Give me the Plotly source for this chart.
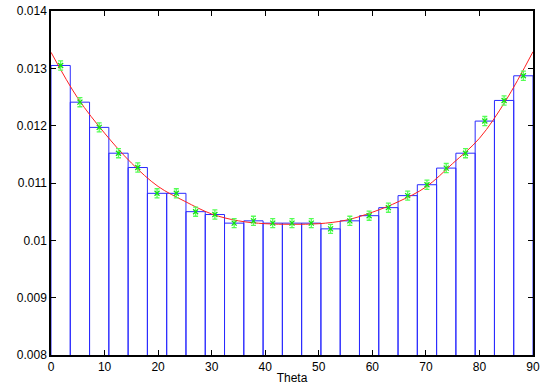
"""Theta distribution histogram with fitted curve."""

import plotly.graph_objects as go

C_BAR = "#2a2aff"
C_FIT = "#ff2020"
C_POINT = "#10e010"
C_ERR = "#55ff55"

BIN_WIDTH = 3.6
bin_centers = [1.8 + 3.6 * i for i in range(25)]

# normalised bin contents
bin_values = [
    0.01305, 0.01241, 0.01197, 0.01152, 0.01127,
    0.01082, 0.01082, 0.01050, 0.01045, 0.01030,
    0.01034, 0.01030, 0.01030, 0.01030, 0.01020,
    0.01034, 0.01043, 0.01057, 0.01078, 0.01097,
    0.01126, 0.01152, 0.01208, 0.01244, 0.01287,
]
bin_errors = [0.00008] * 25

# fitted curve
fit_theta = [0, 5, 10, 15, 20, 25, 30, 35, 40, 45, 50, 55, 60, 65, 70, 75, 80, 85, 90]
fit_values = [
    0.01328, 0.01248, 0.01187, 0.01135, 0.01094,
    0.01068, 0.01046, 0.01034, 0.01029, 0.01028,
    0.01029, 0.01035, 0.01049, 0.01068, 0.01093,
    0.01134, 0.01178, 0.01245, 0.01329,
]

x_ticks = [0, 10, 20, 30, 40, 50, 60, 70, 80, 90]
y_ticks = [0.008, 0.009, 0.010, 0.011, 0.012, 0.013, 0.014]
y_tick_labels = ["0.008", "0.009", "0.01", "0.011", "0.012", "0.013", "0.014"]

# box outlines of every bin, as one broken line (gnuplot "with boxes" look)
box_x, box_y = [], []
for c, v in zip(bin_centers, bin_values):
    left, right = c - BIN_WIDTH / 2, c + BIN_WIDTH / 2
    box_x += [left, left, right, right, None]
    box_y += [0, v, v, 0, None]

hist_trace = go.Scatter(
    x=box_x,
    y=box_y,
    mode="lines",
    line=dict(color=C_BAR, width=1),
    hoverinfo="skip",
    showlegend=False,
)

fit_trace = go.Scatter(
    x=fit_theta,
    y=fit_values,
    mode="lines",
    line=dict(color=C_FIT, width=1, shape="spline"),
    hoverinfo="skip",
    showlegend=False,
)

point_trace = go.Scatter(
    x=bin_centers,
    y=bin_values,
    mode="markers",
    marker=dict(symbol="x-thin", size=5, line=dict(color=C_POINT, width=1.3)),
    error_y=dict(type="data", array=bin_errors, color=C_ERR, thickness=1.3, width=2.5),
    hovertemplate="%{x}: %{y}<extra></extra>",
    showlegend=False,
)

fig = go.Figure(data=[hist_trace, fit_trace, point_trace])

axis_style = dict(
    showgrid=False,
    zeroline=False,
    showline=True,
    linecolor="black",
    linewidth=1.5,
    mirror="ticks",
    ticks="inside",
    ticklen=5,
    tickwidth=1,
    tickcolor="black",
    tickfont=dict(size=12, color="black"),
)

fig.update_layout(
    width=550,
    height=385,
    paper_bgcolor="white",
    plot_bgcolor="white",
    margin=dict(l=51, r=17, t=11, b=30),
    font=dict(family="Liberation Sans, Arial, sans-serif", size=12, color="black"),
    xaxis=dict(
        range=[0, 90],
        tickvals=x_ticks,
        title=dict(text="Theta", font=dict(size=12), standoff=2),
        automargin=False,
        **axis_style,
    ),
    yaxis=dict(
        range=[0.008, 0.014],
        tickvals=y_ticks,
        ticktext=y_tick_labels,
        automargin=False,
        **axis_style,
    ),
)

# drop the browser's default page margin so the figure sits at the corner
fig.write_html(
    "out.html",
    config={"displayModeBar": False},
    post_script="document.body.style.margin='0';",
)
